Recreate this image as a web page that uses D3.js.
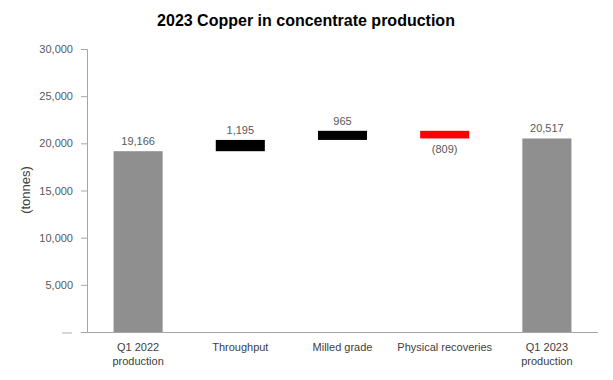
<!DOCTYPE html>
<html><head><meta charset="utf-8">
<script src="https://cdn.jsdelivr.net/npm/d3@7"></script>
<style>body{margin:0;background:#fff;} text{font-family:"Liberation Sans",Arial,sans-serif;}</style>
</head><body>
<svg id="c" width="613" height="380"></svg>
<script>
const categories = ["Q1 2022|production", "Throughput", "Milled grade", "Physical recoveries", "Q1 2023|production"];
const values = [19166, 1195, 965, -809, 20517];
const kinds = ["total", "delta", "delta", "delta", "total"];
const valueLabels = ["19,166", "1,195", "965", "(809)", "20,517"];
const yTicks = [0, 5000, 10000, 15000, 20000, 25000, 30000];

const svg = d3.select("#c");
const m = {left: 87, right: 15, top: 49, bottom: 48};
const W = 613, H = 380;
const x = d3.scaleBand().domain(categories).range([m.left, W - m.right]).paddingInner(0.52).paddingOuter(0.26);
const y = d3.scaleLinear().domain([0, 30000]).range([H - m.bottom, m.top]);

// compute waterfall
let run = 0;
const bars = categories.map((c, i) => {
  let y0, y1;
  if (kinds[i] === "total") { y0 = 0; y1 = values[i]; run = values[i]; }
  else { y0 = run; y1 = run + values[i]; run = y1; }
  return {c, y0, y1, v: values[i], kind: kinds[i], label: valueLabels[i]};
});

// title
svg.append("text").attr("x", 306).attr("y", 26).attr("text-anchor", "middle")
  .style("font-size", "16px").style("font-weight", "bold").attr("fill", "#000")
  .text("2023 Copper in concentrate production");

// y label
svg.append("text").attr("transform", "translate(30,190) rotate(-90)").attr("text-anchor", "middle")
  .style("font-size", "13px").attr("fill", "#404040").text("(tonnes)");

// y axis
const yAxis = d3.axisLeft(y).tickValues(yTicks).tickSize(6).tickPadding(8)
  .tickFormat(d => d === 0 ? "" : d3.format(",")(d));
const ga = svg.append("g").attr("transform", `translate(${m.left},0)`).call(yAxis);
ga.select(".domain").attr("stroke", "#a6a6a6");
ga.selectAll(".tick line").attr("stroke", "#a6a6a6");
ga.selectAll(".tick text").style("font-size", "11px").attr("fill", "#595959")
  .style("font-family", "'Liberation Sans',Arial,sans-serif");
// zero label as dash
svg.append("line").attr("x1", 62).attr("x2", 72).attr("y1", y(0) + 1).attr("y2", y(0) + 1)
  .attr("stroke", "#c8c8c8").attr("stroke-width", 1.5);

// bars
const colorOf = b => b.kind === "total" ? "#8f8f8f" : (b.v < 0 ? "#ff0000" : "#000000");
svg.append("g").selectAll("rect").data(bars).join("rect")
  .attr("x", d => x(d.c)).attr("width", x.bandwidth())
  .attr("y", d => y(Math.max(d.y0, d.y1)))
  .attr("height", d => Math.abs(y(d.y0) - y(d.y1)))
  .attr("fill", colorOf);

// x axis line
svg.append("line").attr("x1", m.left).attr("x2", W - m.right).attr("y1", y(0) + 0.5).attr("y2", y(0) + 0.5)
  .attr("stroke", "#a6a6a6");

// value labels
svg.append("g").selectAll("text").data(bars).join("text")
  .attr("x", d => x(d.c) + x.bandwidth() / 2)
  .attr("y", d => d.v < 0 ? y(Math.min(d.y0, d.y1)) + 15 : y(Math.max(d.y0, d.y1)) - 6)
  .attr("text-anchor", "middle").style("font-size", "11px").attr("fill", "#595959")
  .text(d => d.label);

// category labels
const cl = svg.append("g").selectAll("text").data(categories).join("text")
  .attr("x", d => x(d) + x.bandwidth() / 2).attr("y", y(0) + 19)
  .attr("text-anchor", "middle").style("font-size", "11px").attr("fill", "#404040");
cl.each(function(d) {
  const parts = d.split("|");
  const t = d3.select(this);
  parts.forEach((p, i) => t.append("tspan").attr("x", x(d) + x.bandwidth() / 2).attr("dy", i === 0 ? 0 : 13.5).text(p));
});
</script>
</body></html>
